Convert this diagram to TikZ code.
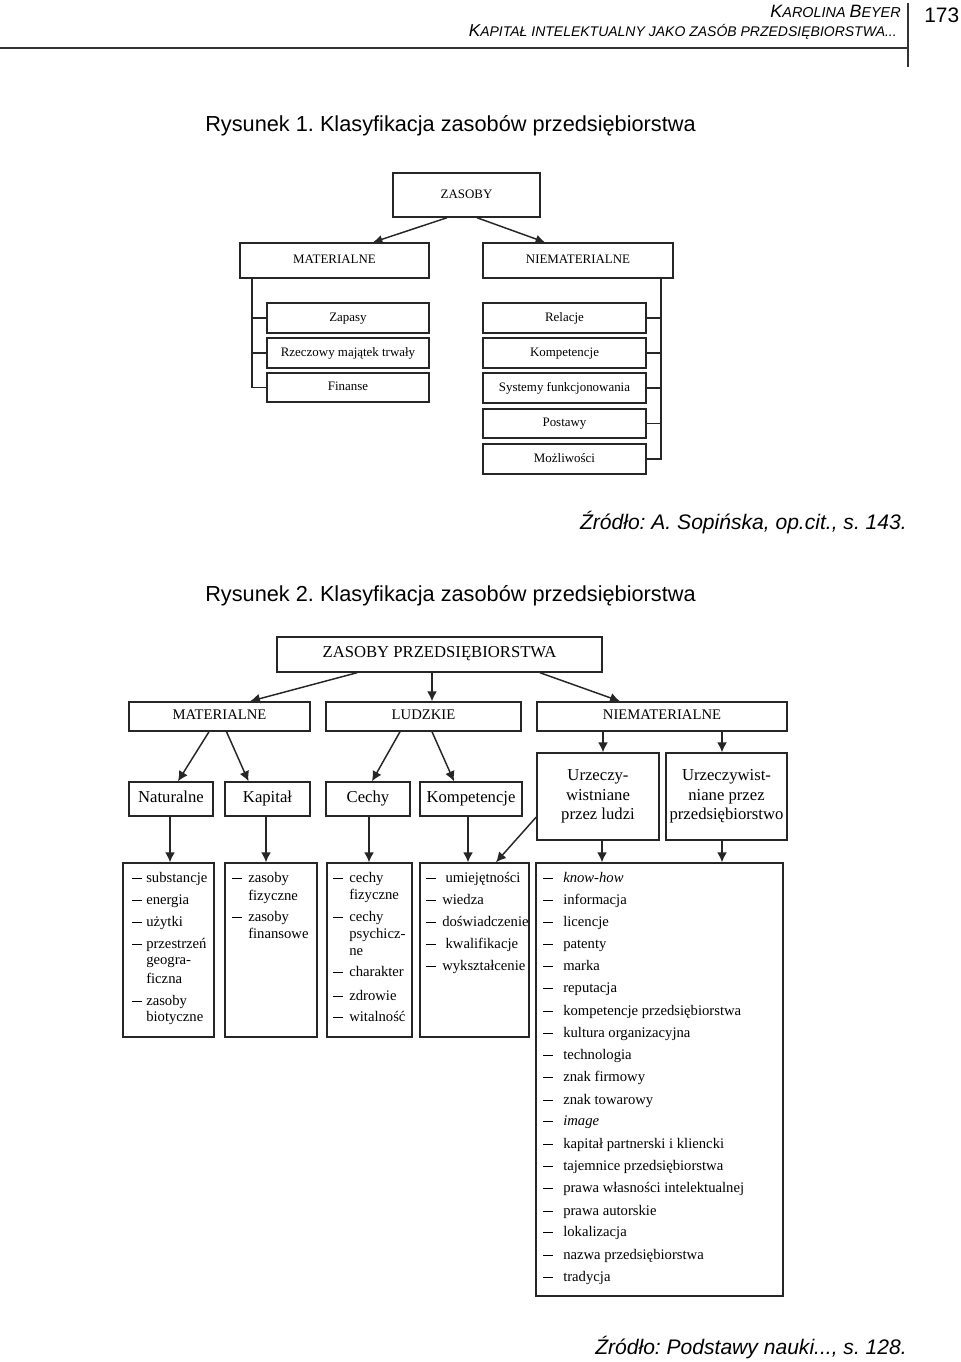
\documentclass[tikz,border=0pt]{standalone}
\usepackage{fontspec}
\setmainfont{Liberation Serif}
\newfontfamily\arial{Liberation Sans}
\usetikzlibrary{arrows.meta,calc}
\frenchspacing
\newcommand{\dashr}{\rule[2.4pt]{7.3pt}{0.8pt}}
\tikzset{
  x=0.75pt, y=-0.75pt,
  bx/.style={draw=black!85, line width=1.1pt, inner sep=0pt, align=center},
  one/.style={text height=0.69em, text depth=0.22em},
  fa/.style={font=\fontsize{9.7}{11.5}\selectfont, one},
  fzp/.style={font=\fontsize{12.5}{14.6}\selectfont, one},
  fr1/.style={font=\fontsize{11}{13}\selectfont, one},
  fr2/.style={font=\fontsize{12.5}{14.6}\selectfont},
  lt/.style={font=\fontsize{11}{13}\selectfont, inner sep=0pt},
  ln/.style={draw=black!85, line width=1.1pt},
  arA/.style={ln, -{Latex[length=7pt,width=6.5pt]}},
  arB/.style={ln, -{Latex[length=7.5pt,width=7.5pt]}},
  capt/.style={font=\arial\fontsize{16.3}{19}\selectfont, inner sep=0pt, anchor=base west},
  srct/.style={font=\arial\itshape\fontsize{15.8}{19}\selectfont, inner sep=0pt, anchor=base east},
}
% name, x1, y1, x2, y2, text, style
\newcommand{\bx}[7]{\node[bx,#7,minimum width={(#4-#2)*0.75pt},minimum height={(#5-#3)*0.75pt}] (#1) at ({(#2+#4)/2},{(#3+#5)/2}) {#6};}
% prefix, x, indent, list y/dash/text
\newcommand{\lst}[4]{\foreach \yy/\dd/\txt [count=\i] in {#4} {\node[lt,anchor=base west] (#1-\i) at (#2,\yy+3.5) {\makebox[#3][l]{\ifnum\dd=1 \dashr\fi}\txt};}}
\begin{document}
\begin{tikzpicture}
\useasboundingbox[fill=white] (0,0) rectangle (960,1362);

% ---------- header ----------
\node[inner sep=0pt, anchor=base east] (auth) at (901,18) {\arial\itshape{\fontsize{13.4}{14}\selectfont K}{\fontsize{10.8}{12}\selectfont AROLINA }{\fontsize{13.4}{14}\selectfont B}{\fontsize{10.8}{12}\selectfont EYER}};
\node[inner sep=0pt, anchor=base east] (title) at (897,37) {\arial\itshape{\fontsize{12.9}{14}\selectfont K}{\fontsize{10.5}{12}\selectfont APITAŁ INTELEKTUALNY JAKO ZASÓB PRZEDSIĘBIORSTWA...}};
\node[inner sep=0pt, anchor=base west] (page) at (924,23) {\arial\fontsize{15.7}{18}\selectfont 173};
\coordinate (hl) at (0,48);
\coordinate (vt) at (908,3);
\coordinate (vb) at (908,67);
\draw[black!80, line width=0.8pt] (hl) -- (hl -| vt);
\draw[black!80, line width=0.8pt] (vt) -- (vb);

% ---------- Figure 1 ----------
\node[capt] (cap1) at (205,132) {Rysunek 1. Klasyfikacja zasobów przedsiębiorstwa};

\bx{zas}{393}{173}{540}{217}{ZASOBY}{fa}
\bx{mat1}{240}{243}{429}{278}{MATERIALNE}{fa}
\bx{nie1}{483}{243}{673}{278}{NIEMATERIALNE}{fa}
\bx{zap}{267}{303}{429}{333}{Zapasy}{fa}
\bx{rze}{267}{338}{429}{368}{Rzeczowy majątek trwały}{fa}
\bx{fin}{267}{373}{429}{402}{Finanse}{fa}
\bx{rel}{483}{303}{646}{333}{Relacje}{fa}
\bx{kom}{483}{338}{646}{368}{Kompetencje}{fa}
\bx{sys}{483}{373}{646}{403}{Systemy funkcjonowania}{fa}
\bx{pos}{483}{409}{646}{438}{Postawy}{fa}
\bx{moz}{483}{444}{646}{474}{Możliwości}{fa}

\draw[arA] ($(zas.south)+(-19.5,0)$) -- ($(mat1.north)+(38.5,0)$);
\draw[arA] ($(zas.south)+(10.5,0)$) -- ($(nie1.north)+(-33,0)$);

\coordinate (lb) at (252,278);
\draw[ln] (lb) |- (fin.west);
\draw[ln] (lb |- zap.west) -- (zap.west);
\draw[ln] (lb |- rze.west) -- (rze.west);
\coordinate (rb) at (661,278);
\draw[ln] (rb) |- (moz.east);
\draw[ln] (rb |- rel.east) -- (rel.east);
\draw[ln] (rb |- kom.east) -- (kom.east);
\draw[ln] (rb |- sys.east) -- (sys.east);
\draw[ln] (rb |- pos.east) -- (pos.east);

\node[srct] (src1) at (907,529) {Źródło: A. Sopińska, op.cit., s. 143.};

% ---------- Figure 2 ----------
\node[capt] (cap2) at (205,601) {Rysunek 2. Klasyfikacja zasobów przedsiębiorstwa};

\bx{zp}{277}{637}{602}{672}{ZASOBY PRZEDSIĘBIORSTWA}{fzp}
\bx{mat2}{129}{702}{310}{731}{MATERIALNE}{fr1}
\bx{lud}{326}{702}{521}{731}{LUDZKIE}{fr1}
\bx{nie2}{537}{702}{787}{731}{NIEMATERIALNE}{fr1}

\bx{nat}{129}{782}{213}{816}{Naturalne}{fr2,one}
\bx{kap}{225}{782}{310}{816}{Kapitał}{fr2,one}
\bx{cec}{326}{782}{410}{816}{Cechy}{fr2,one}
\bx{kmp}{420}{782}{522}{816}{Kompetencje}{fr2,one}
\bx{ul}{537}{753}{659}{840}{Urzeczy-\\wistniane\\przez ludzi}{fr2}
\bx{up}{666}{753}{787}{840}{Urzeczywist-\\niane przez\\przedsiębiorstwo}{fr2}

\bx{L1}{123}{863}{214}{1037}{}{}
\bx{L2}{225}{863}{317}{1037}{}{}
\bx{L3}{327}{863}{412}{1037}{}{}
\bx{L4}{420}{863}{529}{1037}{}{}
\bx{L5}{536}{863}{783}{1296}{}{}

\draw[arB] ($(zp.south)+(-82.5,0)$) -- ($(mat2.north)+(30.5,0)$);
\draw[arB] ($(zp.south)+(-7.5,0)$) -- ($(lud.north)+(8.5,0)$);
\draw[arB] ($(zp.south)+(100.5,0)$) -- ($(nie2.north)+(-42,0)$);

\draw[arB] ($(mat2.south)+(-10.5,0)$) -- ($(nat.north)+(7,0)$);
\draw[arB] ($(mat2.south)+(7,0)$) -- ($(kap.north)+(-19,0)$);
\draw[arB] ($(lud.south)+(-23.5,0)$) -- ($(cec.north)+(4,0)$);
\draw[arB] ($(lud.south)+(8.5,0)$) -- ($(kmp.north)+(-17,0)$);
\coordinate (ua) at ($(ul.north)+(5,0)$);
\coordinate (pa) at ($(up.north)+(-4.5,0)$);
\draw[arB] (ua |- nie2.south) -- (ua);
\draw[arB] (pa |- nie2.south) -- (pa);

\draw[arB] ($(nat.south)+(-1,0)$) -- ($(L1.north)+(1.5,0)$);
\draw[arB] ($(kap.south)+(-1.5,0)$) -- ($(L2.north)+(-5,0)$);
\draw[arB] ($(cec.south)+(1,0)$) -- ($(L3.north)+(-0.5,0)$);
\draw[arB] ($(kmp.south)+(-3,0)$) -- ($(L4.north)+(-6.5,0)$);
\draw[arB] ($(ul.south)+(4,0)$) -- ($(L5.north)+(-57.5,0)$);
\draw[arB] ($(up.south)+(-4.5,0)$) -- ($(L5.north)+(62.5,0)$);
\draw[arB] ($(ul.west)+(0,20.5)$) -- ($(L4.north)+(21.5,0)$);

\lst{a}{132}{10.5pt}{879/1/substancje, 901/1/energia, 923/1/użytki, 945/1/przestrzeń, 961/0/geogra-, 980/0/ficzna, 1002/1/zasoby, 1018/0/biotyczne}
\lst{b}{232}{12pt}{879/1/zasoby, 897/0/fizyczne, 918/1/zasoby, 935/0/finansowe}
\lst{c}{333}{12pt}{879/1/cechy, 896/0/fizyczne, 918/1/cechy, 935/0/psychicz-, 952/0/ne, 973/1/charakter, 997/1/zdrowie, 1018/1/witalność}
\lst{d}{426}{12pt}{879/1/{\hspace{2.5pt}umiejętności}, 901/1/wiedza, 923/1/doświadczenie, 945/1/{\hspace{2.5pt}kwalifikacje}, 967/1/wykształcenie}
\lst{e}{543}{15pt}{879/1/{\textit{know-how}}, 901/1/informacja, 923/1/licencje, 945/1/patenty, 967/1/marka, 989/1/reputacja, 1012/1/{kompetencje przedsiębiorstwa}, 1034/1/{kultura organizacyjna}, 1056/1/technologia, 1078/1/{znak firmowy}, 1101/1/{znak towarowy}, 1122/1/{\textit{image}}, 1145/1/{kapitał partnerski i kliencki}, 1167/1/{tajemnice przedsiębiorstwa}, 1189/1/{prawa własności intelektualnej}, 1212/1/{prawa autorskie}, 1233/1/lokalizacja, 1256/1/{nazwa przedsiębiorstwa}, 1278/1/tradycja}

\node[srct] (src2) at (907,1354) {Źródło: Podstawy nauki..., s. 128.};
\end{tikzpicture}
\end{document}
